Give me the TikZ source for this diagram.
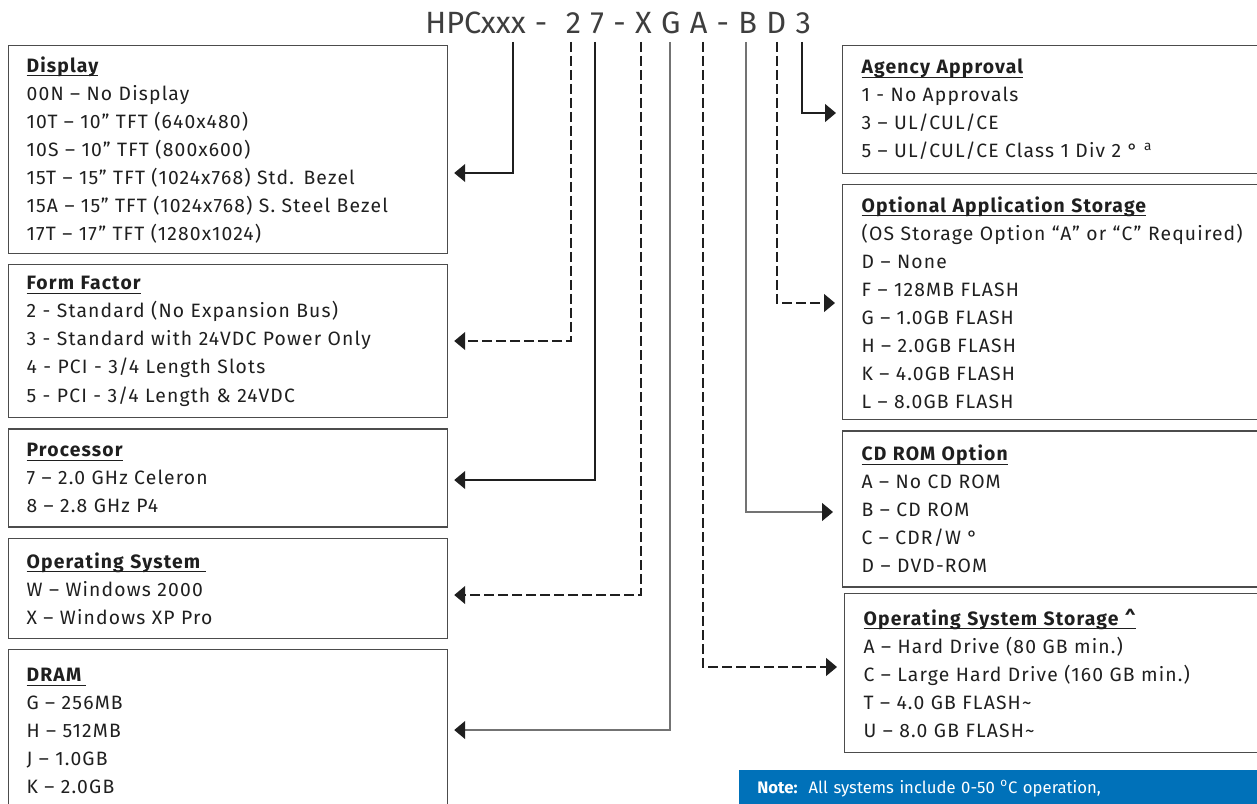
\documentclass[tikz,border=0pt]{standalone}
\usepackage{fontspec}
\setmainfont{Fira Sans}[LetterSpace=6]
\newfontfamily\notefont{Fira Sans}
\usetikzlibrary{positioning, arrows.meta, calc}
\usepackage{xcolor}

\definecolor{notebl}{RGB}{0,113,185}
\definecolor{txtgray}{RGB}{62,62,62}

% underlined bold heading of an option box (optional extra underline length)
\newcommand{\boxhead}[2][0pt]{\setbox0\hbox{\color{black!88}\bfseries #2\hspace{#1}}\rlap{\color{black!88}\rule[-2.4pt]{\wd0}{0.7pt}}\box0}

\begin{document}
\begin{tikzpicture}[
    leftbox/.style={rectangle, draw=black!70, line width=0.7pt, text width=8.06cm, inner xsep=0.36cm, inner ysep=0.1cm, align=left, font=\fontsize{11}{15.94}\selectfont, text=txtgray},
    rightbox/.style={rectangle, draw=black!70, line width=0.7pt, text width=7.8cm, inner xsep=0.38cm, inner ysep=0.1cm, align=left, font=\fontsize{11}{15.94}\selectfont, text=txtgray},
    notebox/.style={rectangle, fill=notebl, text width=9.9cm, inner xsep=0.36cm, inner ysep=0.2cm, align=left, font=\notefont\fontsize{9.5}{14}\selectfont, text=white},
    solidarr/.style={-{Triangle[length=0.22cm, width=0.36cm]}, line width=0.75pt, draw=black!88},
    lightarr/.style={-{Triangle[length=0.22cm, width=0.36cm, color=black!88]}, line width=0.75pt, draw=black!55},
    dasharr/.style={-{Triangle[length=0.22cm, width=0.36cm]}, line width=0.75pt, draw=black!88, dash pattern=on 0.2cm off 0.08cm}
]
    \useasboundingbox (0,0) rectangle (25.14,-16.08);

    % part number
    \node[font=\notefont\fontsize{17.5}{20}\selectfont, text=txtgray, inner sep=0, anchor=base west] (code) at (8.5,-0.67) {\spaceskip=5.3pt\relax HPCxxx - \hspace{5.3pt}2 7 - X G A - B D 3};

    % left column
    \node[leftbox, minimum height=4.16cm, anchor=north west] (disp) at (0.16,-0.9) {\boxhead{Display}\\
        00N – No Display\\
        10T – 10” TFT (640x480)\\
        10S – 10” TFT (800x600)\\
        15T – 15” TFT (1024x768) Std. Bezel\\
        15A – 15” TFT (1024x768) S. Steel Bezel\\
        17T – 17” TFT (1280x1024)};
    \node[leftbox, minimum height=3.06cm, below=0.2cm of disp] (form) {\boxhead{Form Factor}\\
        2 - Standard (No Expansion Bus)\\
        3 - Standard with 24VDC Power Only\\
        4 - PCI - 3/4 Length Slots\\
        5 - PCI - 3/4 Length \& 24VDC};
    \node[leftbox, minimum height=1.96cm, below=0.2cm of form] (proc) {\boxhead{Processor}\\
        7 – 2.0 GHz Celeron\\
        8 – 2.8 GHz P4};
    \node[leftbox, minimum height=2.0cm, below=0.2cm of proc] (os) {\boxhead[3pt]{Operating System}\\
        W – Windows 2000\\
        X – Windows XP Pro};
    \node[leftbox, inner ysep=0.38cm, below=0.2cm of os] (dram) {\boxhead[3pt]{DRAM}\\
        G – 256MB\\
        H – 512MB\\
        J – 1.0GB\\
        K – 2.0GB};

    % right column
    \node[rightbox, minimum height=2.56cm, anchor=north west] (agency) at (16.84,-0.9) {\boxhead{Agency Approval}\\
        1 - No Approvals\\
        3 – UL/CUL/CE\\
        5 – UL/CUL/CE Class 1 Div 2 ° \textsuperscript{a}};
    \node[rightbox, minimum height=4.7cm, below=0.2cm of agency] (app) {\boxhead{Optional Application Storage}\\
        (OS Storage Option “A” or “C” Required)\\
        D – None\\
        F – 128MB FLASH\\
        G – 1.0GB FLASH\\
        H – 2.0GB FLASH\\
        K – 4.0GB FLASH\\
        L – 8.0GB FLASH};
    \node[rightbox, minimum height=3.12cm, below=0.2cm of app] (cd) {\boxhead{CD ROM Option}\\
        A – No CD ROM\\
        B – CD ROM\\
        C – CDR/W °\\
        D – DVD-ROM};
    \node[rightbox, minimum height=3.18cm, anchor=north west] (stor) at (16.88,-11.86) {\boxhead{Operating System Storage \textasciicircum}\\
        A – Hard Drive (80 GB min.)\\
        C – Large Hard Drive (160 GB min.)\\
        T – 4.0 GB FLASH\textasciitilde\\
        U – 8.0 GB FLASH\textasciitilde};

    \node[notebox, anchor=north west] (note) at (14.78,-15.4) {\textbf{Note:}\, All systems include 0-50 \textsuperscript{o}C operation,};

    % code positions
    \coordinate (kDisp) at (10.26,-0.84);
    \coordinate (kForm) at (11.42,-0.84);
    \coordinate (kProc) at (11.9,-0.84);
    \coordinate (kOS) at (12.82,-0.84);
    \coordinate (kDram) at (13.4,-0.84);
    \coordinate (kStor) at (14.06,-0.84);
    \coordinate (kCd) at (14.92,-0.84);
    \coordinate (kApp) at (15.54,-0.84);
    \coordinate (kAgency) at (16.04,-0.84);

    % connectors
    \draw[solidarr] (kDisp) |- ($(disp.east |- 0,-3.46)+(0.12,0)$);
    \draw[dasharr] (kForm) |- ($(form.east |- 0,-6.82)+(0.12,0)$);
    \draw[solidarr] (kProc) |- ($(proc.east |- 0,-9.6)+(0.12,0)$);
    \draw[dasharr] (kOS) |- ($(os.east |- 0,-11.9)+(0.12,0)$);
    \draw[lightarr] (kDram) |- ($(dram.east |- 0,-14.6)+(0.12,0)$);
    \draw[dasharr] (kStor) |- ($(stor.west |- 0,-13.34)+(-0.14,0)$);
    \draw[lightarr] (kCd) |- ($(cd.west |- 0,-10.24)+(-0.18,0)$);
    \draw[dasharr] (kApp) |- ($(app.west |- 0,-6.06)+(-0.14,0)$);
    \draw[solidarr] (kAgency) |- ($(agency.west |- 0,-2.26)+(-0.12,0)$);
\end{tikzpicture}
\end{document}
